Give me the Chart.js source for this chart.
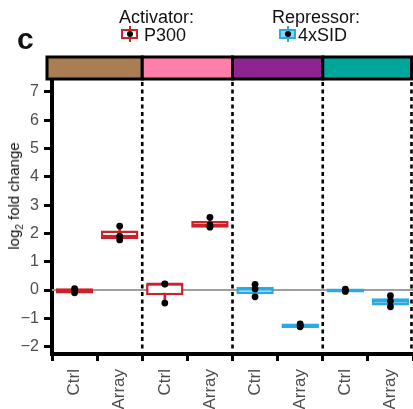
<!DOCTYPE html>
<html>
<head>
<meta charset="utf-8">
<script src="https://cdn.jsdelivr.net/npm/chart.js@4/dist/chart.umd.min.js"></script>
<style>
  body { margin: 0; background: #fff; }
  #wrap { position: relative; width: 413px; height: 409px; overflow: hidden; font-family: "Liberation Sans", Arial, sans-serif; }
  #myChart { position: absolute; left: 0; top: 0; }
  .txt { position: absolute; color: #111; white-space: nowrap; line-height: 1; }
  .icon { position: absolute; width: 17px; height: 16px; }
  .icon .box { position: absolute; left: 0; top: 3px; width: 13px; height: 6px; border: 2px solid; }
  .icon .wh { position: absolute; left: 7.5px; top: 0; width: 2px; height: 16px; }
  .icon .dot { position: absolute; left: 5.5px; top: 5px; width: 6px; height: 6px; border-radius: 50%; background: #000; }
  #ytitle { position: absolute; left: 15px; top: 196px; transform: translate(-50%, -50%) rotate(-90deg); font-size: 15px; color: #111; white-space: nowrap; }
</style>
</head>
<body>
<div id="wrap">
  <canvas id="myChart" width="413" height="409"></canvas>
  <div class="txt" style="left:17px; top:24px; font-size:30px; font-weight:bold;">c</div>
  <div class="txt" style="left:119px; top:8px; font-size:18px;">Activator:</div>
  <div class="icon" style="left:121px; top:26px;"><div class="wh" style="background:#cc2229"></div><div class="box" style="border-color:#cc2229; background:#fff"></div><div class="dot"></div></div>
  <div class="txt" style="left:144px; top:26px; font-size:18px;">P300</div>
  <div class="txt" style="left:272px; top:8px; font-size:18px;">Repressor:</div>
  <div class="icon" style="left:279px; top:26px;"><div class="wh" style="background:#29abe2"></div><div class="box" style="border-color:#29abe2; background:#8fd2ef"></div><div class="dot"></div></div>
  <div class="txt" style="left:298px; top:26px; font-size:18px;">4xSID</div>
  <div id="ytitle">log<sub style="font-size:10px">2</sub> fold change</div>
</div>
<script>
// categories (two per effector group)
const labels = ["Ctrl", "Array", "Ctrl", "Array", "Ctrl", "Array", "Ctrl", "Array"];
const effector = ["P300", "P300", "P300", "P300", "4xSID", "4xSID", "4xSID", "4xSID"];
const stripColors = ["#a97e52", "#ff7faa", "#8e2490", "#00a69c"];

// boxplot stats, log2 fold change (box edges as drawn)
const q1 = [-0.12, 1.80, -0.18, 2.20, -0.15, -1.34, -0.09, -0.55];
const q3 = [0.06, 2.10, 0.24, 2.44, 0.12, -1.18, 0.05, -0.29];
const median = [-0.03, 1.90, 0.21, 2.30, 0.04, -1.25, -0.02, -0.39];
const whiskerLow = [-0.10, 1.77, -0.46, 2.22, -0.26, -1.30, -0.05, -0.59];
const whiskerHigh = [0.05, 2.26, 0.22, 2.57, 0.20, -1.20, 0.05, -0.20];

// three replicates per category
const rep1 = [0.05, 2.26, 0.22, 2.57, 0.20, -1.20, 0.03, -0.20];
const rep2 = [-0.02, 1.90, 0.21, 2.30, 0.04, -1.25, -0.01, -0.39];
const rep3 = [-0.10, 1.77, -0.46, 2.22, -0.24, -1.30, -0.05, -0.59];

const yTicks = [-2, -1, 0, 1, 2, 3, 4, 5, 6, 7];

const red = "#cc2229";
const blue = "#29abe2";
const lineCol = effector.map((e) => e === "P300" ? red : blue);
const fillCol = effector.map((e) => e === "P300" ? "#ffffff" : "#8fd2ef");
const tickFont = { family: "'Liberation Sans', Arial, sans-serif", size: 16 };

const decor = {
  id: "decor",
  beforeDatasetsDraw(chart) {
    const { ctx, chartArea: a, scales: { y } } = chart;
    ctx.save();
    // zero line
    ctx.strokeStyle = "#a0a0a0";
    ctx.lineWidth = 2;
    ctx.beginPath();
    ctx.moveTo(a.left, y.getPixelForValue(0));
    ctx.lineTo(a.right, y.getPixelForValue(0));
    ctx.stroke();
    ctx.restore();
  },
  afterDraw(chart) {
    const { ctx, chartArea: a, scales: { x } } = chart;
    const edges = [a.left - 5];
    for (let i = 1; i < labels.length - 1; i += 2) {
      edges.push((x.getPixelForValue(i) + x.getPixelForValue(i + 1)) / 2);
    }
    edges.push(a.right - 1.5);
    ctx.save();
    // dashed separators
    ctx.strokeStyle = "#000";
    ctx.lineWidth = 2.6;
    ctx.setLineDash([4, 3.5]);
    edges.slice(1).forEach((ex) => {
      ctx.beginPath();
      ctx.moveTo(ex, a.top);
      ctx.lineTo(ex, a.bottom);
      ctx.stroke();
    });
    ctx.setLineDash([]);
    // coloured strip on top
    const top = a.top - 25, h = 22;
    ctx.lineWidth = 3;
    for (let k = 0; k < stripColors.length; k++) {
      ctx.fillStyle = stripColors[k];
      ctx.fillRect(edges[k], top, edges[k + 1] - edges[k], h);
      ctx.strokeRect(edges[k], top, edges[k + 1] - edges[k], h);
    }
    ctx.restore();
  }
};

const ctx = document.getElementById("myChart").getContext("2d");
const myChart = new Chart(ctx, {
  data: {
    labels: labels,
    datasets: [
      {
        type: "bar",
        data: labels.map((l, i) => [whiskerLow[i], whiskerHigh[i]]),
        backgroundColor: lineCol,
        barThickness: 2,
        grouped: false,
        order: 4,
      },
      {
        type: "bar",
        data: labels.map((l, i) => [q1[i], q3[i]]),
        backgroundColor: fillCol,
        borderColor: lineCol,
        borderWidth: 2.5,
        borderSkipped: false,
        barPercentage: 0.83,
        categoryPercentage: 1,
        grouped: false,
        order: 3,
      },
      {
        type: "line",
        data: median,
        showLine: false,
        pointStyle: "line",
        pointRadius: 18,
        pointBorderWidth: 2.5,
        pointBorderColor: lineCol,
        order: 2,
      },
      ...[rep1, rep2, rep3].map((r) => ({
        type: "line",
        data: r,
        showLine: false,
        pointRadius: 3.4,
        pointBackgroundColor: "#000",
        pointBorderColor: "#000",
        pointBorderWidth: 0,
        order: 1,
      })),
    ],
  },
  options: {
    responsive: false,
    animation: false,
    events: [],
    layout: { autoPadding: false, padding: { top: 82, right: 0, left: 0, bottom: 0 } },
    plugins: { legend: { display: false }, tooltip: { enabled: false } },
    scales: {
      x: {
        type: "category",
        offset: true,
        grid: { drawOnChartArea: false, drawTicks: true, tickLength: 7, tickWidth: 3, tickColor: "#000" },
        border: { color: "#000", width: 4 },
        ticks: { minRotation: 90, maxRotation: 90, color: "#4d4d4d", font: { family: tickFont.family, size: 17 }, padding: 8 },
        afterFit: (s) => { s.height = 55; s.paddingLeft = 0; s.paddingRight = 0; },
      },
      y: {
        min: -2.26,
        max: 7.35,
        afterBuildTicks: (s) => { s.ticks = yTicks.map((v) => ({ value: v })); },
        grid: { drawOnChartArea: false, tickLength: 8, tickWidth: 3, tickColor: "#000" },
        border: { color: "#000", width: 4 },
        ticks: { color: "#4d4d4d", font: tickFont, padding: 5, callback: (v) => v < 0 ? "\u2212" + Math.abs(v) : v },
        afterFit: (s) => { s.width = 52; s.paddingTop = 0; s.paddingBottom = 0; },
      },
    },
  },
  plugins: [decor],
});
</script>
</body>
</html>
